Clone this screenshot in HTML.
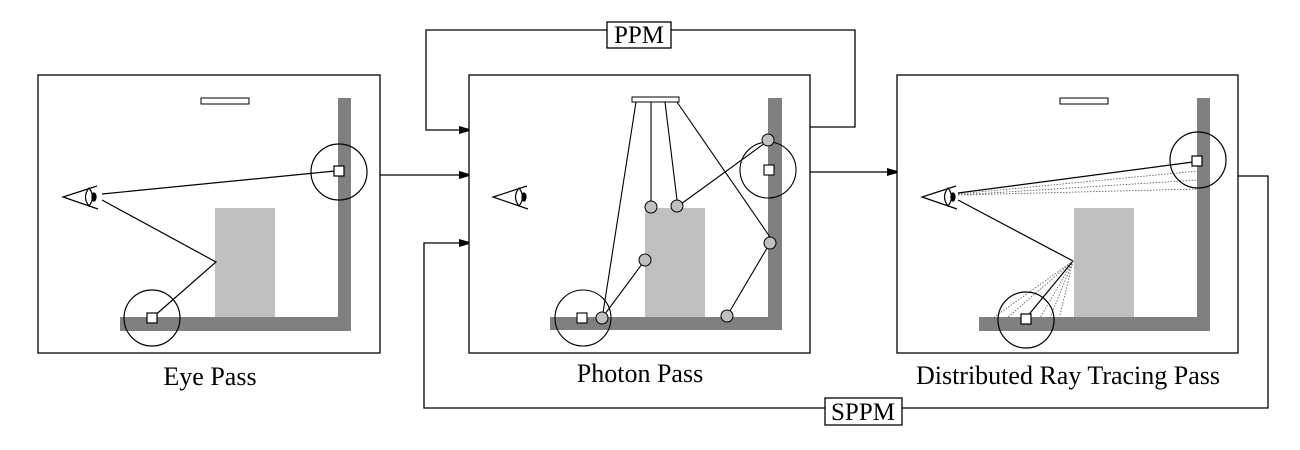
<!DOCTYPE html>
<html><head><style>body{margin:0;background:#fff}svg{display:block}</style></head><body>
<svg width="1300" height="450" viewBox="0 0 1300 450" xmlns="http://www.w3.org/2000/svg" font-family="Liberation Serif, serif">
<defs>
<marker id="a" markerWidth="10" markerHeight="8" refX="10" refY="4" orient="auto" markerUnits="userSpaceOnUse"><path d="M0,0 L14,4 L0,8z" fill="#000"/></marker>
<g id="eye" stroke="#000" stroke-width="1.2" fill="none">
<path d="M97,186 L63,197 L98,209"/>
<path d="M89,188 Q82,197 89,206 Q96,197 89,188z" fill="#fff"/>
<ellipse cx="94" cy="197" rx="2" ry="4" fill="#000"/>
</g>
<g id="scene">
<rect x="201" y="98" width="48" height="6" fill="#fff" stroke="#000" stroke-width="1"/>
<rect x="215" y="208" width="60" height="109" fill="#c0c0c0"/>
<rect x="338" y="98" width="13" height="233" fill="#808080"/>
<rect x="120" y="317" width="231" height="14" fill="#808080"/>
</g>
</defs>
<!-- connectors -->
<g stroke="#000" stroke-width="1.3" fill="none">
<line x1="380" y1="175" x2="469" y2="175" marker-end="url(#a)"/>
<path d="M810,127 H855 V30 H426 V130 H469" marker-end="url(#a)"/>
<line x1="810" y1="172" x2="897" y2="172" marker-end="url(#a)"/>
<path d="M1238,176 H1268 V408 H424 V243 H469" marker-end="url(#a)"/>
</g>
<rect x="607" y="22" width="64" height="26" fill="#fff" stroke="#000" stroke-width="1.3"/>
<text x="639" y="43" font-size="25" text-anchor="middle">PPM</text>
<rect x="825" y="398" width="77" height="27" fill="#fff" stroke="#000" stroke-width="1.3"/>
<text x="863" y="420" font-size="25" text-anchor="middle">SPPM</text>

<!-- panel 1 -->
<rect x="38" y="75" width="342" height="278" fill="#fff" stroke="#000" stroke-width="1.3"/>
<use href="#scene"/>
<use href="#eye"/>
<g stroke="#000" stroke-width="1.2" fill="none">
<line x1="102" y1="194" x2="335" y2="171"/>
<path d="M102,200 L216,262 L152,318"/>
<circle cx="339" cy="172" r="28"/>
<circle cx="152" cy="318" r="28"/>
<rect x="334" y="166" width="10" height="10" fill="#fff"/>
<rect x="147" y="313" width="10" height="10" fill="#fff"/>
</g>
<text x="210" y="385" font-size="26" text-anchor="middle">Eye Pass</text>

<!-- panel 2 -->
<rect x="469" y="75" width="341" height="278" fill="#fff" stroke="#000" stroke-width="1.3"/>
<rect x="645" y="208" width="60" height="109" fill="#c0c0c0"/>
<rect x="768" y="98" width="14" height="232" fill="#808080"/>
<rect x="550" y="317" width="232" height="13" fill="#808080"/>
<rect x="632" y="97" width="47" height="5" fill="#fff" stroke="#000"/>
<use href="#eye" x="430"/>
<g stroke="#000" stroke-width="1.1" fill="none">
<line x1="636" y1="102" x2="603" y2="313"/>
<line x1="651" y1="102" x2="651" y2="201"/>
<line x1="665" y1="102" x2="677" y2="200"/>
<line x1="677" y1="102" x2="770" y2="237"/>
<line x1="681" y1="204" x2="765" y2="143"/>
<line x1="602" y1="318" x2="645" y2="260"/>
<line x1="770" y1="243" x2="727" y2="316"/>
<circle cx="768" cy="170" r="28"/>
<circle cx="583" cy="318" r="28"/>
<rect x="764" y="165" width="10" height="10" fill="#fff"/>
<rect x="577" y="313" width="10" height="10" fill="#fff"/>
</g>
<g fill="#c0c0c0" stroke="#000" stroke-width="1">
<circle cx="651" cy="207" r="6"/><circle cx="677" cy="206" r="6"/><circle cx="645" cy="260" r="6"/>
<circle cx="768" cy="140" r="6"/><circle cx="770" cy="243" r="6"/><circle cx="602" cy="318" r="6"/><circle cx="727" cy="316" r="6"/>
</g>
<text x="640" y="382" font-size="26" text-anchor="middle">Photon Pass</text>

<!-- panel 3 -->
<rect x="897" y="75" width="341" height="278" fill="#fff" stroke="#000" stroke-width="1.3"/>
<use href="#scene" x="859"/>
<rect x="1170" y="317" width="40" height="14" fill="#808080"/>
<use href="#eye" x="859"/>
<g stroke="#000" stroke-width="1.2" fill="none">
<line x1="958" y1="193" x2="1193" y2="162"/>
<path d="M958,200 L1073,261 L1026,318"/>
</g>
<g stroke="#555" stroke-width="0.8" stroke-dasharray="1.5,1.5" fill="none">
<line x1="958" y1="194" x2="1198" y2="171"/>
<line x1="958" y1="195" x2="1198" y2="180"/>
<line x1="958" y1="195" x2="1198" y2="189"/>
<line x1="1073" y1="261" x2="993" y2="318"/>
<line x1="1073" y1="261" x2="1007" y2="318"/>
<line x1="1073" y1="261" x2="1040" y2="318"/>
<line x1="1073" y1="261" x2="1050" y2="318"/>
<line x1="1073" y1="261" x2="1060" y2="315"/>
</g>
<g stroke="#000" stroke-width="1.2" fill="none">
<circle cx="1198" cy="160" r="28"/>
<circle cx="1026" cy="320" r="28"/>
<rect x="1192" y="156" width="10" height="10" fill="#fff"/>
<rect x="1021" y="314" width="10" height="10" fill="#fff"/>
</g>
<text x="1068" y="384" font-size="26" text-anchor="middle">Distributed Ray Tracing Pass</text>
</svg>
</body></html>
